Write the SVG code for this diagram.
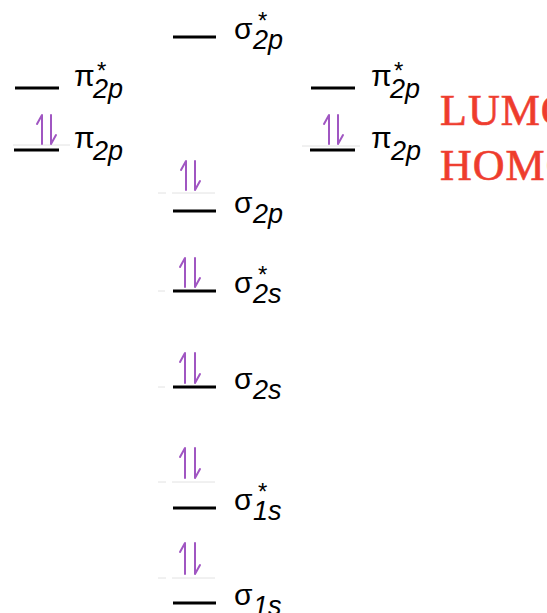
<svg xmlns="http://www.w3.org/2000/svg" width="547" height="613" viewBox="0 0 547 613">
<defs>
<style>
.lvl{stroke:#000;stroke-width:3;fill:none}
.res{stroke:#e2e2e2;stroke-width:1;fill:none}
.e{stroke:#a056c2;stroke-width:2;fill:none;stroke-linecap:round;stroke-linejoin:round}
.m{font-family:"Liberation Sans",Arial,sans-serif;font-size:30px;fill:#000}
.s{font-family:"Liberation Sans",Arial,sans-serif;font-size:27px;font-style:italic;fill:#000}
.st{font-family:"Liberation Sans",Arial,sans-serif;font-size:24px;fill:#000}
.r{font-family:"Liberation Serif","Times New Roman",serif;font-size:44px;letter-spacing:1px;fill:#ee3c2c;stroke:#f0463a;stroke-width:0.7}
</style>
</defs>
<rect width="547" height="613" fill="#fff"/>
<g id="connectors"/>
<g id="sigma-star-2p">
<line class="lvl" x1="173" y1="37" x2="216" y2="37"/>
<text class="m" x="234" y="39">σ</text>
<text class="st" x="258" y="29">*</text>
<text class="s" x="253" y="49">2p</text>
</g>
<g id="pi-star-2p-left">
<line class="lvl" x1="15" y1="88" x2="59" y2="88"/>
<text class="m" x="74" y="86">π</text>
<text class="st" x="97" y="79">*</text>
<text class="s" x="93" y="98">2p</text>
</g>
<g id="pi-2p-left">
<line class="res" x1="13" y1="145" x2="70" y2="145"/>
<line class="lvl" x1="14" y1="150" x2="59" y2="150"/>
<path class="e" d="M42,144 V115 L37,124 M51,115 V144 L56,135"/>
<text class="m" x="74" y="148">π</text>
<text class="s" x="93" y="160">2p</text>
</g>
<g id="pi-star-2p-right">
<line class="lvl" x1="311" y1="88" x2="355" y2="88"/>
<text class="m" x="371" y="86">π</text>
<text class="st" x="394" y="79">*</text>
<text class="s" x="390" y="98">2p</text>
</g>
<g id="pi-2p-right">
<line class="res" x1="302" y1="146" x2="360" y2="146"/>
<line class="lvl" x1="310" y1="150" x2="355" y2="150"/>
<path class="e" d="M329,144 V115 L324,124 M338,115 V144 L343,135"/>
<text class="m" x="371" y="148">π</text>
<text class="s" x="391" y="160">2p</text>
</g>
<g id="lumo-homo">
<text class="r" x="440" y="125">LUMO</text>
<text class="r" x="440" y="180">HOMO</text>
</g>
<g id="sigma-2p">
<path class="res" d="M158,193 H166 M172,193 H215"/>
<line class="lvl" x1="173" y1="211" x2="216" y2="211"/>
<path class="e" d="M186,190 V161 L181,170 M195,161 V190 L200,181"/>
<text class="m" x="234" y="213">σ</text>
<text class="s" x="253" y="223">2p</text>
</g>
<g id="sigma-star-2s">
<path class="res" d="M158,291 H165"/>
<line class="lvl" x1="173" y1="291" x2="216" y2="291"/>
<path class="e" d="M185,287 V258 L180,267 M195,258 V287 L200,278"/>
<text class="m" x="234" y="293">σ</text>
<text class="st" x="258" y="283">*</text>
<text class="s" x="253" y="303">2s</text>
</g>
<g id="sigma-2s">
<path class="res" d="M158,387 H165"/>
<line class="lvl" x1="173" y1="387" x2="216" y2="387"/>
<path class="e" d="M185,383 V353 L180,362 M195,353 V383 L200,374"/>
<text class="m" x="234" y="389">σ</text>
<text class="s" x="253" y="399">2s</text>
</g>
<g id="sigma-star-1s">
<path class="res" d="M158,482 H166 M172,482 H215"/>
<line class="lvl" x1="173" y1="508" x2="216" y2="508"/>
<path class="e" d="M185,478 V448 L180,457 M195,448 V478 L200,469"/>
<text class="m" x="234" y="510">σ</text>
<text class="st" x="258" y="500">*</text>
<text class="s" x="253" y="520">1s</text>
</g>
<g id="sigma-1s">
<path class="res" d="M158,578 H166 M172,578 H215"/>
<line class="lvl" x1="173" y1="603" x2="216" y2="603"/>
<path class="e" d="M185,574 V543 L180,552 M195,543 V574 L200,565"/>
<text class="m" x="234" y="605">σ</text>
<text class="s" x="253" y="615">1s</text>
</g>
</svg>
